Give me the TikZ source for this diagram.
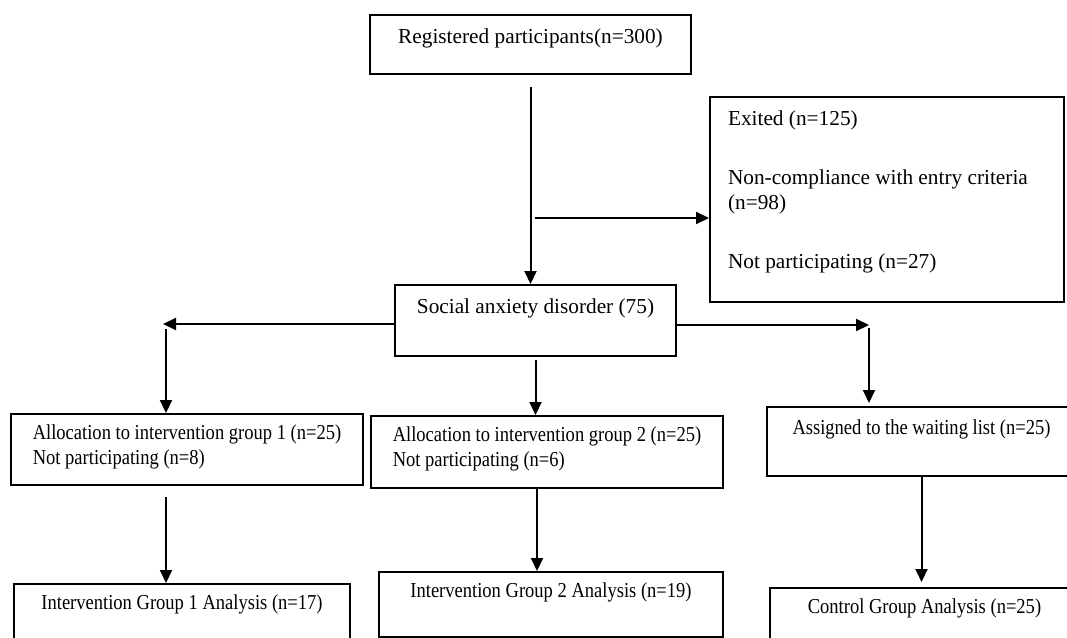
\documentclass[tikz,border=0pt]{standalone}
\usepackage{fontspec}
\setmainfont{Liberation Serif}
\newfontfamily\lowrowfont[FakeStretch=0.87]{Liberation Serif}
\usetikzlibrary{arrows.meta}
\tikzset{
  flowbox/.style={draw, line width=2pt, anchor=north west, inner xsep=0pt,
                  inner ysep=0pt, font=\fontsize{21.3pt}{25pt}\selectfont},
  lowrow/.style={font=\lowrowfont\fontsize{21.3pt}{25pt}\selectfont},
  flowarr/.style={draw, line width=2pt, -{Triangle[length=13pt,width=12pt]}},
}

\begin{document}
\begin{tikzpicture}[x=1pt, y=-1pt]
  \useasboundingbox (0,0) rectangle (1067,637);
  \fill[white] (0,0) rectangle (1067,637);
  \clip (0,0) rectangle (1067,637);
  % screening
  \node[flowbox, minimum width=321pt, text height=28pt, text depth=31pt] (reg) at (369,14) {Registered participants(n=300)};
  \node[flowbox, inner xsep=18pt, text width=318pt, align=flush left, text height=28pt, text depth=177pt] (exit) at (709,96)
    {Exited (n=125)\\[34pt]Non-compliance with entry criteria\\(n=98)\\[34pt]Not participating (n=27)};
  \node[flowbox, minimum width=281pt, text height=28pt, text depth=43pt] (soc) at (394,284) {Social anxiety disorder (75)};
  % allocation
  \node[flowbox, lowrow, minimum width=352pt, align=left, text height=50pt, text depth=21pt] (a1) at (10,413)
    {Allocation to intervention group 1 (n=25)\\Not participating (n=8)};
  \node[flowbox, lowrow, minimum width=352pt, align=left, text height=50pt, text depth=22pt] (a2) at (370,415)
    {Allocation to intervention group 2 (n=25)\\Not participating (n=6)};
  \node[flowbox, lowrow, minimum width=309pt, text height=27pt, text depth=42pt] (a3) at (766,406) {Assigned to the waiting list (n=25)};
  % analysis
  \node[flowbox, lowrow, minimum width=336pt, text height=25pt, text depth=50pt] (b1) at (13,583) {Intervention Group 1 Analysis (n=17)};
  \node[flowbox, lowrow, minimum width=344pt, text height=25pt, text depth=40pt] (b2) at (378,571) {Intervention Group 2 Analysis (n=19)};
  \node[flowbox, lowrow, minimum width=309pt, text height=25pt, text depth=50pt] (b3) at (769,587) {Control Group Analysis (n=25)};

  \coordinate (split) at (535,218);
  \coordinate (lturn) at (163,324);
  \coordinate (ldrop) at (166,329);
  \coordinate (rturn) at (869,325);
  \coordinate (rdrop) at (869,328);
  \coordinate (mdrop) at (537,489);

  \draw[flowarr, shorten <=12pt] (reg.south) -- (reg.south |- soc.north);
  \draw[flowarr] (split) -- (split -| exit.west);
  \draw[flowarr] (soc.west |- lturn) -- (lturn);
  \draw[flowarr] (ldrop) -- (ldrop |- a1.north);
  \draw[flowarr] (soc.east |- rturn) -- (rturn);
  \draw[flowarr, shorten >=3pt] (rdrop) -- (rdrop |- a3.north);
  \draw[flowarr, shorten <=3pt] (soc.south) -- (soc.south |- a2.north);
  \draw[flowarr, shorten <=11pt] (a1.south -| ldrop) -- (ldrop |- b1.north);
  \draw[flowarr] (mdrop) -- (mdrop |- b2.north);
  \draw[flowarr, shorten >=5pt] (a3.south) -- (a3.south |- b3.north);
\end{tikzpicture}
\end{document}
